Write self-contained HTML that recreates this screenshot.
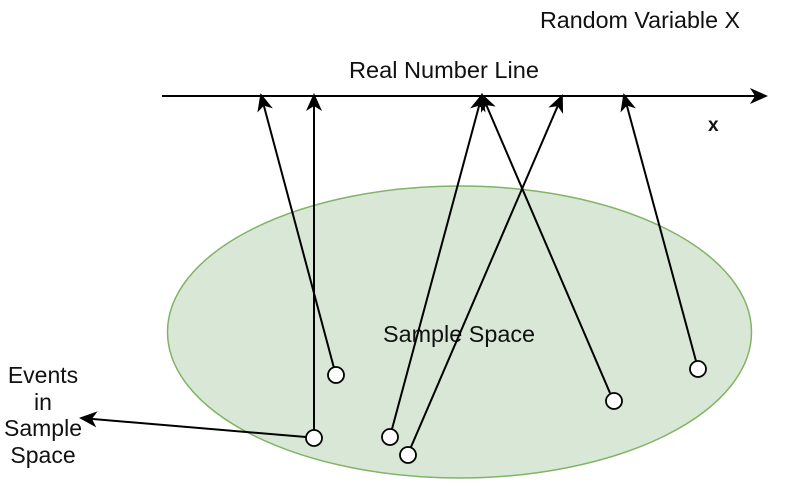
<!DOCTYPE html>
<html><head><style>body{margin:0;background:#fff}svg{display:block}text{font-family:"Liberation Sans",Arial,sans-serif;font-size:23px;fill:#111}</style></head>
<body>
<svg width="800" height="503" viewBox="0 0 800 503" xmlns="http://www.w3.org/2000/svg">
<defs><marker id="a" markerWidth="18" markerHeight="16" refX="16" refY="8" orient="auto" markerUnits="userSpaceOnUse"><path d="M0,0 L18,8 L0,16 L5,8 Z" fill="#000"/></marker></defs>
<ellipse cx="459.5" cy="332" rx="292" ry="146" fill="#d9e8d6" stroke="#82b366" stroke-width="1.5"/>
<text x="540" y="28" textLength="200" lengthAdjust="spacingAndGlyphs">Random Variable X</text>
<text x="349" y="78" textLength="190" lengthAdjust="spacingAndGlyphs">Real Number Line</text>
<text x="708" y="131" style="font-weight:bold;font-size:19px">x</text>
<text x="383" y="342" textLength="152" lengthAdjust="spacingAndGlyphs">Sample Space</text>
<g text-anchor="middle" style="font-size:22px"><text x="43" y="383">Events</text><text x="43" y="410">in</text><text x="43" y="436">Sample</text><text x="43" y="463">Space</text></g>
<g stroke="#000" stroke-width="2" fill="none" marker-end="url(#a)">
<line x1="162" y1="96" x2="766" y2="96"/>
<line x1="334" y1="368" x2="261" y2="95"/>
<line x1="314" y1="430" x2="314" y2="95"/>
<line x1="392" y1="429" x2="482" y2="95"/>
<line x1="411" y1="447" x2="562" y2="96"/>
<line x1="610" y1="393" x2="482" y2="95"/>
<line x1="696" y1="361" x2="624" y2="95"/>
<line x1="306" y1="437" x2="81" y2="418"/>
</g>
<g fill="#fff" stroke="#000" stroke-width="1.8">
<circle cx="336" cy="375" r="8"/><circle cx="314" cy="438" r="8"/><circle cx="390" cy="437" r="8"/><circle cx="408" cy="455" r="8"/><circle cx="614" cy="401" r="8"/><circle cx="698" cy="369" r="8"/>
</g>
</svg>
</body></html>
